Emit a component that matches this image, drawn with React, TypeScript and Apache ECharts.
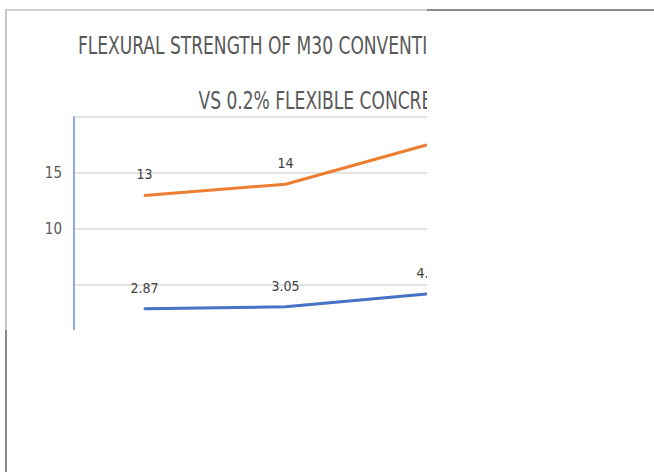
import React, { useEffect, useRef } from "react";
import * as echarts from "echarts";

const categories = ["7 Days", "14 Days", "28 Days"];
const conventionalValues = [2.87, 3.05, 4.2];
const flexibleValues = [13, 14, 17.5];
const yTickLabels = [10, 15];
const titleLines = ["FLEXURAL STRENGTH OF M30 CONVENTIONAL CONCRETE", "VS 0.2% FLEXIBLE CONCRETE"];

const FONT = '"Liberation Sans Narrow", "DejaVu Sans Condensed", "Roboto Condensed", sans-serif';

const labelStyle = {
  show: true,
  position: "top",
  distance: 13,
  color: "#404040",
  fontFamily: FONT,
  fontSize: 14,
};

export default function App() {
  const ref = useRef<HTMLDivElement>(null);
  useEffect(() => {
    if (!ref.current) return;
    const chart = echarts.init(ref.current, undefined, { renderer: "svg" });
    const lastIdx = flexibleValues.length - 1;
    chart.setOption({
      animation: false,
      backgroundColor: "#ffffff",
      graphic: titleLines.map((t, i) => ({
        type: "text",
        x: 326,
        y: i === 0 ? 46 : 101,
        scaleY: 1.3,
        style: {
          text: t,
          font: `19px ${FONT}`,
          fill: "#595959",
          align: "center",
          verticalAlign: "middle",
        },
      })),
      grid: { left: 74, top: 117, width: 423, height: 224, containLabel: false },
      xAxis: {
        type: "category",
        data: categories,
        boundaryGap: true,
        axisTick: { show: false },
        axisLine: { lineStyle: { color: "#d9d9d9" } },
        axisLabel: { color: "#595959", fontFamily: FONT, fontSize: 14 },
      },
      yAxis: {
        type: "value",
        min: 0,
        max: 20,
        interval: 5,
        axisLine: { show: true, lineStyle: { color: "#8faadc", width: 2 } },
        axisTick: { show: false },
        splitLine: { lineStyle: { color: "#e3e3e3", width: 2 } },
        axisLabel: {
          color: "#595959",
          fontFamily: FONT,
          fontSize: 15,
          margin: 12,
          formatter: (v: number) => (yTickLabels.includes(v) ? String(v) : ""),
        },
      },
      series: [
        {
          name: "M30 Conventional",
          type: "line",
          data: conventionalValues,
          symbol: "circle",
          symbolSize: 2,
          showSymbol: true,
          lineStyle: { color: "#4472c4", width: 3 },
          itemStyle: { color: "#4472c4" },
          label: labelStyle,
          labelLayout: { hideOverlap: false },
        },
        {
          name: "0.2% Flexible",
          type: "line",
          data: flexibleValues.map((v, i) =>
            i === lastIdx ? { value: v, label: { position: "right", distance: 8 } } : v
          ),
          symbol: "circle",
          symbolSize: 2,
          showSymbol: true,
          lineStyle: { color: "#ed7d31", width: 3 },
          itemStyle: { color: "#ed7d31" },
          label: labelStyle,
          labelLayout: { hideOverlap: false },
        },
      ],
    });
    return () => chart.dispose();
  }, []);

  return (
    <div style={{ position: "absolute", left: 0, top: 0, width: 654, height: 472, background: "#fff", overflow: "hidden" }}>
      <div style={{ position: "absolute", left: 0, top: 0, width: 427, height: 330, overflow: "hidden" }}>
        <div ref={ref} style={{ width: 654, height: 472 }} />
      </div>
      <div style={{ position: "absolute", left: 5, top: 9, width: 2, height: 321, background: "#c8c8c8" }} />
      <div style={{ position: "absolute", left: 5, top: 330, width: 2, height: 142, background: "#8c8c8c" }} />
      <div style={{ position: "absolute", left: 5, top: 9, width: 422, height: 2, background: "#d0d0d0" }} />
      <div style={{ position: "absolute", left: 427, top: 9, width: 227, height: 2, background: "#8c8c8c" }} />
    </div>
  );
}
